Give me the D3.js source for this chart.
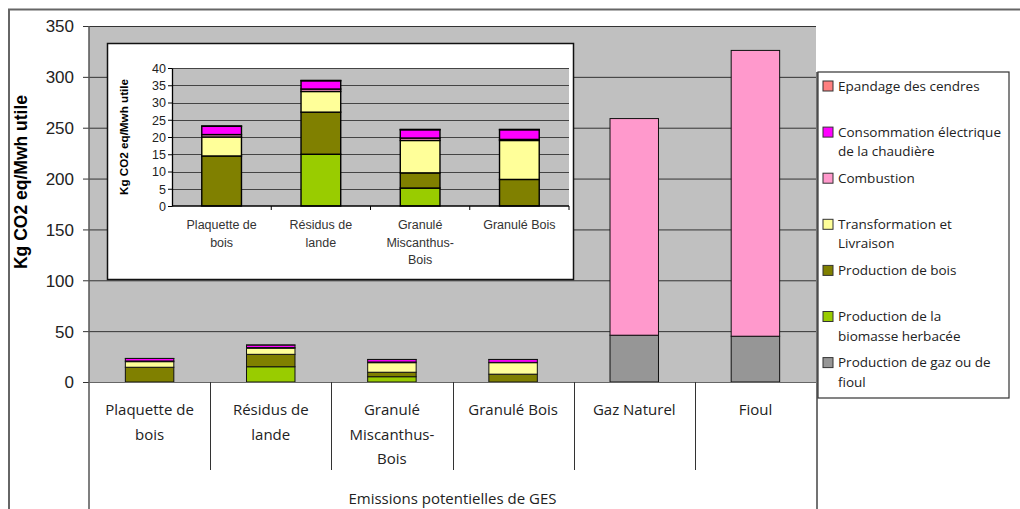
<!DOCTYPE html>
<html>
<head>
<meta charset="utf-8">
<script src="https://cdn.jsdelivr.net/npm/d3@7"></script>
<style>
  body { margin: 0; background: #fff; }
  svg { display: block; }
</style>
</head>
<body>
<div id="chart"></div>
<script>
// categories (bars) and their label lines
var categories = ["Plaquette de bois", "Résidus de lande", "Granulé Miscanthus-Bois", "Granulé Bois", "Gaz Naturel", "Fioul"];
var catLines = [["Plaquette de", "bois"], ["Résidus de", "lande"], ["Granulé", "Miscanthus-", "Bois"], ["Granulé Bois"], ["Gaz Naturel"], ["Fioul"]];

// series values (kg CO2 eq / MWh utile), stacked bottom -> top
var gaz            = [0,    0,    0,   0,    46,  45];
var biomasse       = [0,    15,   5.2, 0,    0,   0];
var bois           = [14.5, 12.2, 4.4, 7.7,  0,   0];
var transformation = [5.5,  6,    9.4, 11.3, 0,   0];
var combustion     = [0.7,  0.7,  0.7, 0.3,  213, 281];
var consommation   = [2.4,  2.4,  2.4, 2.8,  0,   0];
var epandage       = [0.1,  0.1,  0.1, 0.1,  0,   0];

var mainTicks = [0, 50, 100, 150, 200, 250, 300, 350];
var insetTicks = [0, 5, 10, 15, 20, 25, 30, 35, 40];

// legend (top -> bottom)
var legendKeys = ["epandage", "consommation", "combustion", "transformation", "bois", "biomasse", "gaz"];
var legendLines = [["Epandage des cendres"], ["Consommation électrique", "de la chaudière"], ["Combustion"],
                   ["Transformation et", "Livraison"], ["Production de bois"], ["Production de la", "biomasse herbacée"],
                   ["Production de gaz ou de", "fioul"]];

var stackKeys = ["gaz", "biomasse", "bois", "transformation", "combustion", "consommation", "epandage"];
var color = d3.scaleOrdinal()
    .domain(stackKeys)
    .range(["#969696", "#99CC00", "#808000", "#FFFF99", "#FF99CC", "#FF00FF", "#FF8080"]);

var table = categories.map(function (c, i) {
    return { cat: c, gaz: gaz[i], biomasse: biomasse[i], bois: bois[i], transformation: transformation[i],
             combustion: combustion[i], consommation: consommation[i], epandage: epandage[i] };
});
var stacked = d3.stack().keys(stackKeys)(table);

var W = 1020, H = 509;
var svg = d3.select("#chart").append("svg").attr("width", W).attr("height", H);

// outer frame
svg.append("rect").attr("x", 9).attr("y", 9.5).attr("width", 1030).attr("height", 520)
    .attr("fill", "#fff").attr("stroke", "#666").attr("stroke-width", 2);

// ---------- main chart ----------
var plot = { left: 89, right: 816, top: 26, bottom: 382 };
var x = d3.scaleBand().domain(categories).range([plot.left, plot.right]).padding(0);
var y = d3.scaleLinear().domain([0, 350]).range([plot.bottom, plot.top]);

svg.append("rect").attr("x", plot.left).attr("y", plot.top)
    .attr("width", plot.right - plot.left).attr("height", plot.bottom - plot.top).attr("fill", "#C0C0C0");

// gridlines
svg.append("g").selectAll("line").data(mainTicks.filter(function (d) { return d > 0; })).join("line")
    .attr("x1", plot.left).attr("x2", plot.right)
    .attr("y1", function (d) { return y(d) + 0.5; }).attr("y2", function (d) { return y(d) + 0.5; })
    .attr("stroke", "#333").attr("stroke-width", 1);

// y axis
var yAxis = svg.append("g").attr("transform", "translate(" + plot.left + ",0)")
    .call(d3.axisLeft(y).tickValues(mainTicks).tickSize(6).tickSizeOuter(0));
yAxis.select(".domain").remove();
yAxis.selectAll(".tick line").attr("stroke", "#333");
yAxis.selectAll(".tick text").attr("x", -15).attr("dy", "0.35em")
    .attr("font-family", "Arial, 'Liberation Sans', sans-serif").attr("font-size", 17).attr("fill", "#222");
svg.append("line").attr("x1", plot.left).attr("x2", plot.left).attr("y1", plot.top).attr("y2", H)
    .attr("stroke", "#555").attr("stroke-width", 1.5);

svg.append("text")
    .attr("transform", "translate(27," + 182 + ") rotate(-90)")
    .attr("text-anchor", "middle")
    .attr("font-family", "Arial, 'Liberation Sans', sans-serif").attr("font-weight", "bold")
    .attr("font-size", 17.5).attr("fill", "#000")
    .text("Kg CO2 eq/Mwh utile");

// bars
var barW = x.bandwidth() * 0.4;
svg.append("g").selectAll("g").data(stacked).join("g")
    .attr("fill", function (d) { return color(d.key); })
    .selectAll("rect").data(function (d) { return d.filter(function (s) { return s[1] - s[0] > 0; }); }).join("rect")
    .attr("x", function (d) { return x(d.data.cat) + (x.bandwidth() - barW) / 2; })
    .attr("width", barW)
    .attr("y", function (d) { return y(d[1]); })
    .attr("height", function (d) { return y(d[0]) - y(d[1]); })
    .attr("stroke", "#111").attr("stroke-width", 1);

// category axis (white area with separators)
svg.append("line").attr("x1", plot.left).attr("x2", plot.right).attr("y1", plot.bottom + 0.5).attr("y2", plot.bottom + 0.5)
    .attr("stroke", "#666");
svg.append("g").selectAll("line").data(categories.slice(1)).join("line")
    .attr("x1", function (d) { return Math.round(x(d)) + 0.5; }).attr("x2", function (d) { return Math.round(x(d)) + 0.5; })
    .attr("y1", plot.bottom).attr("y2", 470)
    .attr("stroke", "#333").attr("stroke-width", 1);
svg.append("line").attr("x1", plot.right + 1).attr("x2", plot.right + 1).attr("y1", 72).attr("y2", H)
    .attr("stroke", "#444").attr("stroke-width", 1.5);

var catG = svg.append("g").selectAll("text").data(categories).join("text")
    .attr("text-anchor", "middle")
    .attr("font-family", "'Open Sans', sans-serif").attr("font-size", 15).attr("fill", "#222")
    .attr("x", function (d) { return x(d) + x.bandwidth() / 2; });
catG.selectAll("tspan").data(function (d, i) { return catLines[i]; }).join("tspan")
    .attr("x", function () { return d3.select(this.parentNode).attr("x"); })
    .attr("y", function (d, j) { return 415 + j * 24.5; })
    .text(function (d) { return d; });

svg.append("text").attr("x", (plot.left + plot.right) / 2).attr("y", 504)
    .attr("text-anchor", "middle")
    .attr("font-family", "'Open Sans', sans-serif").attr("font-size", 15).attr("fill", "#222")
    .text("Emissions potentielles de GES");

// ---------- inset (zoom on biomass options) ----------
var inset = { left: 172, right: 569, top: 68, bottom: 206 };
svg.append("rect").attr("x", 107.5).attr("y", 43.5).attr("width", 466).attr("height", 236)
    .attr("fill", "#fff").attr("stroke", "#111").attr("stroke-width", 1.5);

var insetCats = categories.slice(0, 4);
var xi = d3.scaleBand().domain(insetCats).range([inset.left, inset.right]).padding(0);
var yi = d3.scaleLinear().domain([0, 40]).range([inset.bottom, inset.top]);

svg.append("rect").attr("x", inset.left).attr("y", inset.top)
    .attr("width", inset.right - inset.left).attr("height", inset.bottom - inset.top).attr("fill", "#C0C0C0");
svg.append("g").selectAll("line").data(insetTicks.filter(function (d) { return d > 0; })).join("line")
    .attr("x1", inset.left).attr("x2", inset.right)
    .attr("y1", function (d) { return Math.round(yi(d)) + 0.5; }).attr("y2", function (d) { return Math.round(yi(d)) + 0.5; })
    .attr("stroke", "#444").attr("stroke-width", 1);

var insetStack = stacked.map(function (s) {
    var a = s.slice(0, 4); a.key = s.key; return a;
});
var barWi = xi.bandwidth() * 0.4;
svg.append("g").selectAll("g").data(insetStack).join("g")
    .attr("fill", function (d) { return color(d.key); })
    .selectAll("rect").data(function (d) { return d.filter(function (s) { return s[1] - s[0] > 0; }); }).join("rect")
    .attr("x", function (d) { return xi(d.data.cat) + (xi.bandwidth() - barWi) / 2; })
    .attr("width", barWi)
    .attr("y", function (d) { return yi(d[1]); })
    .attr("height", function (d) { return yi(d[0]) - yi(d[1]); })
    .attr("stroke", "#000").attr("stroke-width", 1.4);

var yiAxis = svg.append("g").attr("transform", "translate(" + inset.left + ",0)")
    .call(d3.axisLeft(yi).tickValues(insetTicks).tickSize(4).tickSizeOuter(0));
yiAxis.select(".domain").attr("stroke", "#000").attr("stroke-width", 1.3);
yiAxis.selectAll(".tick line").attr("stroke", "#000");
yiAxis.selectAll(".tick text").attr("x", -6).attr("dy", "0.35em")
    .attr("font-family", "Arial, 'Liberation Sans', sans-serif").attr("font-size", 12.5).attr("fill", "#222");

var xiAxis = svg.append("g").attr("transform", "translate(0," + inset.bottom + ")");
xiAxis.append("line").attr("x1", inset.left).attr("x2", inset.right).attr("stroke", "#000").attr("stroke-width", 1.3);
xiAxis.selectAll("line.t").data(insetCats.slice(1).concat(["end"])).join("line").attr("class", "t")
    .attr("x1", function (d) { return d === "end" ? inset.right : xi(d); })
    .attr("x2", function (d) { return d === "end" ? inset.right : xi(d); })
    .attr("y1", 0).attr("y2", 4).attr("stroke", "#000");

var catI = svg.append("g").selectAll("text").data(insetCats).join("text")
    .attr("text-anchor", "middle")
    .attr("font-family", "Arial, 'Liberation Sans', sans-serif").attr("font-size", 12.5).attr("fill", "#333")
    .attr("x", function (d) { return xi(d) + xi.bandwidth() / 2; });
catI.selectAll("tspan").data(function (d, i) { return catLines[i]; }).join("tspan")
    .attr("x", function () { return d3.select(this.parentNode).attr("x"); })
    .attr("y", function (d, j) { return 229 + j * 17.5; })
    .text(function (d) { return d; });

svg.append("text")
    .attr("transform", "translate(128,137) rotate(-90)")
    .attr("text-anchor", "middle")
    .attr("font-family", "Arial, 'Liberation Sans', sans-serif").attr("font-weight", "bold")
    .attr("font-size", 10.5).attr("fill", "#000")
    .attr("textLength", 116).attr("lengthAdjust", "spacingAndGlyphs")
    .text("Kg CO2 eq/Mwh utile");

// ---------- legend ----------
var lg = svg.append("g");
lg.append("rect").attr("x", 818).attr("y", 72).attr("width", 191).attr("height", 326)
    .attr("fill", "#fff").attr("stroke", "#333").attr("stroke-width", 1.2);
var item = lg.selectAll("g.item").data(legendKeys).join("g").attr("class", "item")
    .attr("transform", function (d, i) { return "translate(823," + (86 + i * 46.1) + ")"; });
item.append("rect").attr("x", 0).attr("y", -5).attr("width", 10).attr("height", 10)
    .attr("fill", function (d) { return color(d); }).attr("stroke", "#333").attr("stroke-width", 1);
item.append("text").attr("font-family", "'Open Sans', sans-serif").attr("font-size", 13.5).attr("fill", "#222")
    .selectAll("tspan").data(function (d, i) { return legendLines[i]; }).join("tspan")
    .attr("x", 15).attr("y", function (d, j) { return 4.5 + j * 19.5; })
    .text(function (d) { return d; });
</script>
</body>
</html>
